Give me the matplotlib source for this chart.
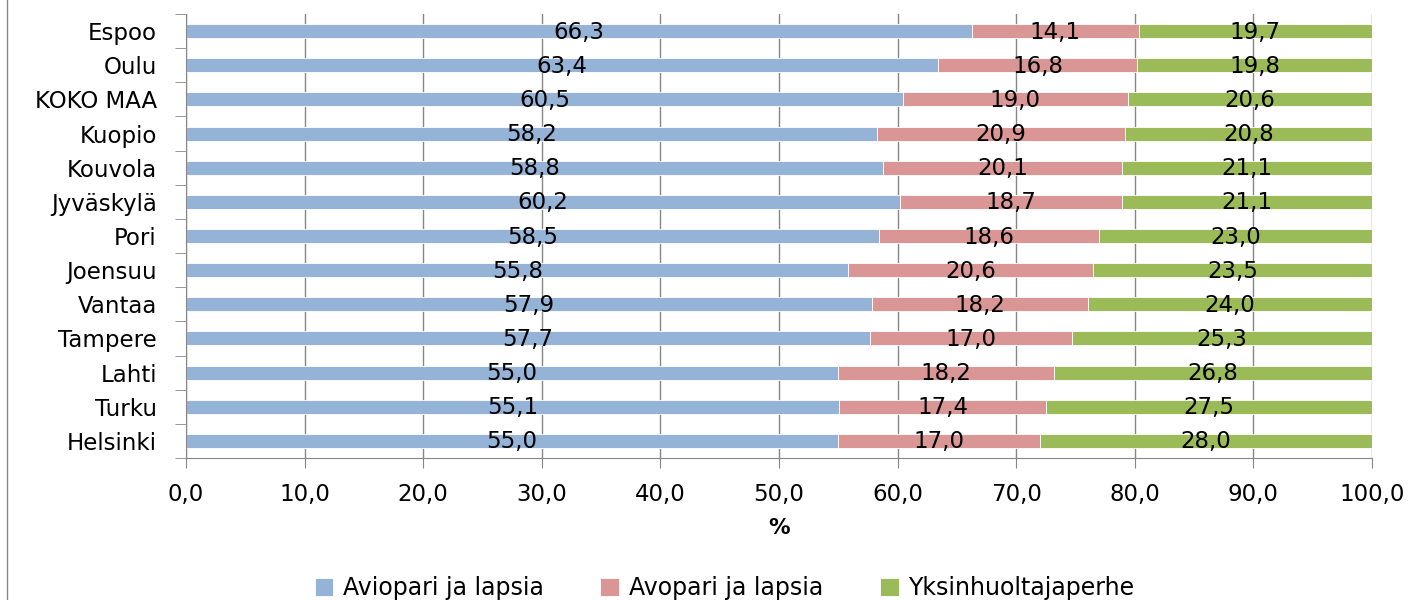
import numpy as np
import matplotlib.pyplot as plt
from matplotlib.lines import Line2D

# Kaupungit ja osuudet (%)
kaupungit = ['Espoo', 'Oulu', 'KOKO MAA', 'Kuopio', 'Kouvola', 'Jyväskylä', 'Pori',
             'Joensuu', 'Vantaa', 'Tampere', 'Lahti', 'Turku', 'Helsinki']
aviopari = [66.3, 63.4, 60.5, 58.2, 58.8, 60.2, 58.5, 55.8, 57.9, 57.7, 55.0, 55.1, 55.0]
avopari = [14.1, 16.8, 19.0, 20.9, 20.1, 18.7, 18.6, 20.6, 18.2, 17.0, 18.2, 17.4, 17.0]
yksinhuoltaja = [19.7, 19.8, 20.6, 20.8, 21.1, 21.1, 23.0, 23.5, 24.0, 25.3, 26.8, 27.5, 28.0]

sarjat = ['Aviopari ja lapsia', 'Avopari ja lapsia', 'Yksinhuoltajaperhe']
varit = ['#95B3D7', '#D99694', '#9BBB59']

plt.rcParams['font.family'] = ['DejaVu Sans']
fs = 16.5

arvot = np.array([aviopari, avopari, yksinhuoltaja])
summa = arvot.sum(axis=0)
osuus = arvot / summa * 100  # 100 % pinottu

fig = plt.figure(figsize=(14.12, 6), dpi=100)
ax = fig.add_axes([186 / 1412, 1 - 458 / 600, (1372 - 186) / 1412, (458 - 14) / 600])

y = np.arange(len(kaupungit))
vasen = np.zeros(len(kaupungit))
for i in range(3):
    ax.barh(y, osuus[i], left=vasen, height=0.41, color=varit[i],
            edgecolor='white', linewidth=0.6, label=sarjat[i], zorder=2)
    for j in range(len(kaupungit)):
        ax.text(vasen[j] + osuus[i][j] / 2, y[j] + 0.03, f'{arvot[i][j]:.1f}'.replace('.', ','),
                ha='center', va='center', fontsize=fs, color='black', zorder=3)
    vasen += osuus[i]

ax.set_xlim(0, 100)
ax.set_ylim(len(kaupungit) - 0.5, -0.5)
ax.set_xticks(np.arange(0, 101, 10))
ax.set_xticklabels([f'{v:.1f}'.replace('.', ',') for v in np.arange(0, 101, 10)], fontsize=fs)
ax.set_yticks(y)
ax.set_yticklabels(kaupungit, fontsize=fs)
ax.set_yticks(np.arange(-0.5, len(kaupungit)), minor=True)
ax.tick_params(axis='y', which='major', length=0, pad=21)
ax.tick_params(axis='y', which='minor', length=8, color='#868686', direction='out')
ax.tick_params(axis='x', length=7, color='#868686', direction='out', pad=11)
ax.grid(axis='x', color='#868686', linewidth=1, zorder=0)
ax.set_axisbelow(True)
for s in ['top', 'right']:
    ax.spines[s].set_visible(False)
for s in ['left', 'bottom']:
    ax.spines[s].set_color('#868686')
ax.set_xlabel('%', fontsize=fs - 1, fontweight='bold', labelpad=9)

fig.legend(loc='center', bbox_to_anchor=(0.513, 0.02), ncol=3, frameon=False,
           fontsize=fs + 0.5, handlelength=0.8, handleheight=0.8, handletextpad=0.4,
           columnspacing=2.4)

fig.add_artist(Line2D([7 / 1412, 7 / 1412], [0, 1], transform=fig.transFigure,
                      color='#868686', linewidth=1))

fig.savefig('out.png', dpi=100)
